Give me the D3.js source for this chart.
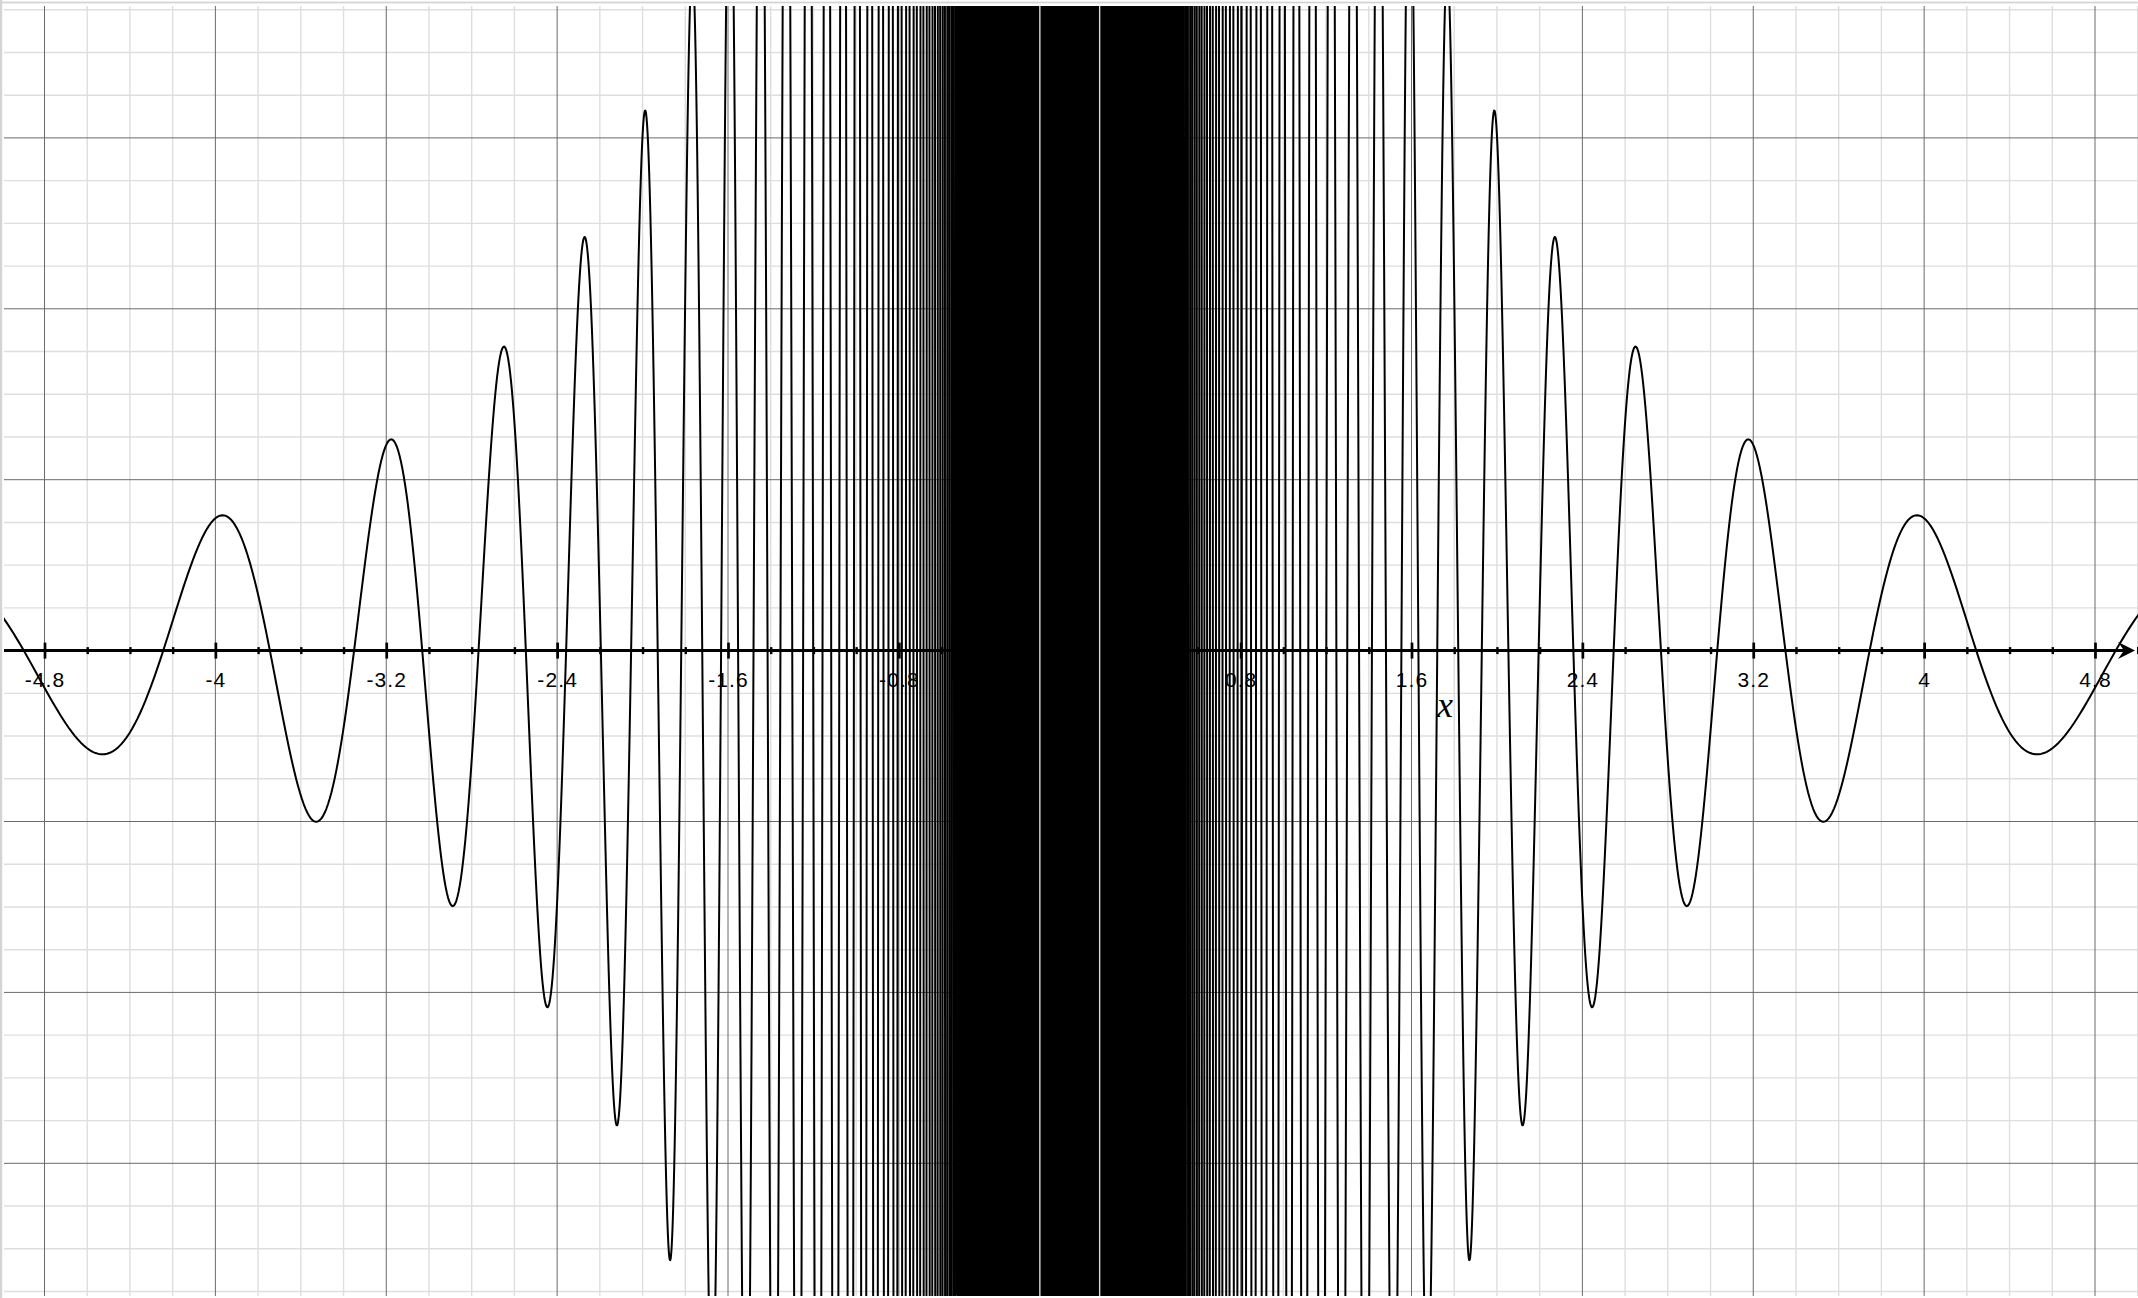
<!DOCTYPE html>
<html>
<head>
<meta charset="utf-8">
<script src="https://cdn.jsdelivr.net/npm/d3@7"></script>
<style>
  html, body { margin: 0; padding: 0; background: #fff; }
  svg { display: block; }
</style>
</head>
<body>
<script>
// ---------------- data ----------------
// Plotted function, as read from the lobes: y = A·cos(F/x) / x²
const curveAmplitude = 10;     // peak at x≈3.98 is ≈0.63, at x≈1.99 ≈2.53  → 10/x²
const curveFrequency = 100;    // extrema at x = 100/(nπ)
const xTickValues  = [-4.8, -4, -3.2, -2.4, -1.6, -0.8, 0.8, 1.6, 2.4, 3.2, 4, 4.8];
const xTickLabels  = ["-4.8", "-4", "-3.2", "-2.4", "-1.6", "-0.8", "0.8", "1.6", "2.4", "3.2", "4", "4.8"];
const majorGridValues = [-4.8, -4, -3.2, -2.4, -1.6, -0.8, 0, 0.8, 1.6, 2.4, 3.2, 4, 4.8];
const minorStep = 0.2;
const yMajorGridValues = [-2.4, -1.6, -0.8, 0.8, 1.6, 2.4];
const bandGaps = [-0.14, 0.14];   // the two pale gaps inside the saturated band
const axisLabel = "x";

// ---------------- layout ----------------
const W = 2138, H = 1298;
const plot = { left: 4, top: 6, right: W, bottom: 1296 };

const x = d3.scaleLinear().domain([-4.8, 4.8]).range([44.5, 2095]);
const y = d3.scaleLinear().domain([-2.4, 2.4]).range([1163.3, 137.9]);
const pxPerUnit = Math.abs(x(1) - x(0));

const svg = d3.select("body").append("svg")
  .attr("width", W).attr("height", H)
  .attr("viewBox", `0 0 ${W} ${H}`);

svg.append("rect").attr("width", W).attr("height", H).attr("fill", "#fff");

// frame
svg.append("rect").attr("x", 0).attr("y", 0).attr("width", 2.2).attr("height", H).attr("fill", "#d4d4d4");
svg.append("rect").attr("x", 0).attr("y", 1.6).attr("width", W).attr("height", 1.8).attr("fill", "#d4d4d4");

svg.append("clipPath").attr("id", "clip")
  .append("rect")
  .attr("x", plot.left).attr("y", plot.top)
  .attr("width", plot.right - plot.left).attr("height", plot.bottom - plot.top);

const g = svg.append("g").attr("clip-path", "url(#clip)");

// minor grid
const xd0 = x.invert(plot.left), xd1 = x.invert(plot.right);
const isMajor = v => Math.abs(v / 0.8 - Math.round(v / 0.8)) < 1e-6;
const minorX = d3.range(Math.ceil(xd0 / minorStep), Math.floor(xd1 / minorStep) + 1)
  .map(k => +(k * minorStep).toFixed(6)).filter(v => !isMajor(v));
const yd0 = y.invert(plot.bottom), yd1 = y.invert(plot.top);
const minorY = d3.range(Math.ceil(yd0 / minorStep), Math.floor(yd1 / minorStep) + 1)
  .map(k => +(k * minorStep).toFixed(6)).filter(v => !isMajor(v));

g.append("g").selectAll("line").data(minorX).join("line")
  .attr("x1", d => x(d)).attr("x2", d => x(d))
  .attr("y1", plot.top).attr("y2", plot.bottom)
  .attr("stroke", "#dedede").attr("stroke-width", 1.4);
g.append("g").selectAll("line").data(minorY).join("line")
  .attr("y1", d => y(d)).attr("y2", d => y(d))
  .attr("x1", plot.left).attr("x2", plot.right)
  .attr("stroke", "#dedede").attr("stroke-width", 1.4);

// major grid
g.append("g").selectAll("line").data(majorGridValues).join("line")
  .attr("x1", d => x(d)).attr("x2", d => x(d))
  .attr("y1", plot.top).attr("y2", plot.bottom)
  .attr("stroke", "#6a6a6a").attr("stroke-width", 1);
g.append("g").selectAll("line").data(yMajorGridValues).join("line")
  .attr("y1", d => y(d)).attr("y2", d => y(d))
  .attr("x1", plot.left).attr("x2", plot.right)
  .attr("stroke", "#6a6a6a").attr("stroke-width", 1);

// ---------------- x axis ----------------
const y0 = y(0);
g.append("line")
  .attr("x1", plot.left).attr("x2", W - 14)
  .attr("y1", y0).attr("y2", y0)
  .attr("stroke", "#000").attr("stroke-width", 3);
g.append("path")
  .attr("d", `M${W - 3},${y0} L${W - 20},${y0 - 8.5} L${W - 14},${y0} L${W - 20},${y0 + 8.5} Z`)
  .attr("fill", "#000");

const minorTickValues = minorX.filter(v => Math.abs(v) > 1e-6);
const minorAxis = d3.axisBottom(x).tickValues(minorTickValues).tickFormat("").tickSize(3.5).tickSizeOuter(0);
const gMinor = g.append("g").attr("transform", `translate(0,${y0})`).call(minorAxis);
gMinor.select(".domain").remove();
gMinor.selectAll(".tick line").attr("y1", -3.5).attr("y2", 3.5).attr("stroke", "#000").attr("stroke-width", 2.4);

const majorAxis = d3.axisBottom(x).tickValues(xTickValues)
  .tickFormat((d, i) => xTickLabels[i]).tickSize(8).tickSizeOuter(0).tickPadding(13.2);
const gMajor = g.append("g").attr("transform", `translate(0,${y0})`).call(majorAxis);
gMajor.attr("font-size", null).attr("font-family", null);
gMajor.select(".domain").remove();
gMajor.selectAll(".tick line").attr("y1", -8).attr("y2", 8).attr("stroke", "#000").attr("stroke-width", 2.7);
gMajor.selectAll(".tick text")
  .style("font-family", "'Liberation Sans', Arial, Helvetica, sans-serif")
  .style("font-size", "21px")
  .style("letter-spacing", "1.1px")
  .attr("fill", "#000");

// axis name
g.append("text")
  .attr("x", 1445).attr("y", 717)
  .attr("text-anchor", "middle")
  .attr("font-family", "'Liberation Serif', 'Times New Roman', serif")
  .attr("font-style", "italic")
  .attr("font-size", 36)
  .attr("fill", "#000")
  .text(axisLabel);

// ---------------- curve ----------------
const f = v => curveAmplitude * Math.cos(curveFrequency / v) / (v * v);

function sideSamples(xEdge) {
  const F = curveFrequency, xs = [xEdge];
  const pMin = F / xEdge;
  const xSwitch = Math.sqrt(F / (Math.PI * pxPerUnit));       // half period = 1 px
  const N = Math.ceil(F / (xSwitch * Math.PI));
  for (let j = Math.ceil(pMin * 48 / Math.PI); j <= 48 * N; j++) xs.push(F / (j * Math.PI / 48));
  let n = N;
  while (true) {
    const xn = F / (n * Math.PI);
    const halfPx = Math.PI * xn * xn / F * pxPerUnit;
    let s = Math.max(1, Math.ceil(0.12 / halfPx));
    if (s % 2 === 0) s++;
    n += s;
    const xnew = F / (n * Math.PI);
    if (xnew < 0.0004) break;
    xs.push(xnew);
  }
  return xs; // descending |x|
}

const side = sideSamples(5.1);
const xsAll = side.map(v => -v).concat(side.slice().reverse());
const yLim = 4.2;
const pts = xsAll.map(v => [v, Math.max(-yLim, Math.min(yLim, f(v)))]);

const line = d3.line().x(d => x(d[0])).y(d => y(d[1]));
g.append("path")
  .attr("d", line(pts))
  .attr("fill", "none")
  .attr("stroke", "#000")
  .attr("stroke-width", 2)
  .attr("stroke-linejoin", "round");

// pale gaps inside the saturated band
g.append("g").selectAll("line").data(bandGaps).join("line")
  .attr("x1", d => x(d)).attr("x2", d => x(d))
  .attr("y1", plot.top).attr("y2", plot.bottom)
  .attr("stroke", "#d8d8d8").attr("stroke-width", 1.4);
</script>
</body>
</html>
